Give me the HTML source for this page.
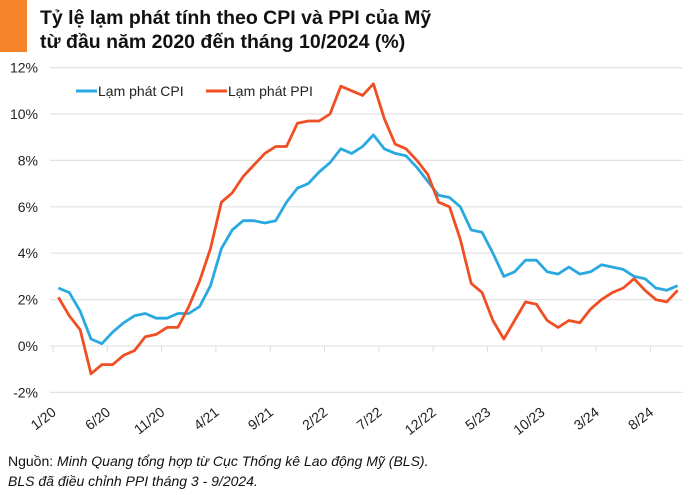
<!DOCTYPE html>
<html><head><meta charset="utf-8"><style>
body{margin:0;background:#fff;width:700px;height:490px;overflow:hidden;font-family:"Liberation Sans",sans-serif}
</style></head><body>
<svg width="700" height="490" xmlns="http://www.w3.org/2000/svg" font-family="Liberation Sans, sans-serif">
<rect x="0" y="0" width="27" height="52" fill="#f5842a"/>
<text font-weight="bold" font-size="19.5" fill="#111"><tspan x="40" y="24">Tỷ lệ lạm phát tính theo CPI và PPI của Mỹ</tspan><tspan x="40" y="48">từ đầu năm 2020 đến tháng 10/2024 (%)</tspan></text>
<g id="grid"></g>
<g id="yl"></g>
<g id="xl"></g>
<g id="series"></g>
<g>
<line x1="76" y1="91" x2="97" y2="91" stroke="#29a9e0" stroke-width="3"/>
<text x="98" y="96" font-size="14" fill="#222">Lạm phát CPI</text>
<line x1="206" y1="91" x2="227" y2="91" stroke="#f04e23" stroke-width="3"/>
<text x="228" y="96" font-size="14" fill="#222">Lạm phát PPI</text>
</g>
<text font-size="14" fill="#111"><tspan x="8" y="466">Nguồn: <tspan font-style="italic">Minh Quang tổng hợp từ Cục Thống kê Lao động Mỹ (BLS).</tspan></tspan><tspan x="8" y="486" font-style="italic">BLS đã điều chỉnh PPI tháng 3 - 9/2024.</tspan></text>
</svg>
<script>
const cpi=[2.5,2.3,1.5,0.3,0.1,0.6,1.0,1.3,1.4,1.2,1.2,1.4,
1.4,1.7,2.6,4.2,5.0,5.4,5.4,5.3,5.4,6.2,6.8,7.0,
7.5,7.9,8.5,8.3,8.6,9.1,8.5,8.3,8.2,7.7,7.1,6.5,
6.4,6.0,5.0,4.9,4.0,3.0,3.2,3.7,3.7,3.2,3.1,3.4,
3.1,3.2,3.5,3.4,3.3,3.0,2.9,2.5,2.4,2.6];
const ppi=[2.1,1.3,0.7,-1.2,-0.8,-0.8,-0.4,-0.2,0.4,0.5,0.8,0.8,
1.7,2.8,4.2,6.2,6.6,7.3,7.8,8.3,8.6,8.6,9.6,9.7,
9.7,10.0,11.2,11.0,10.8,11.3,9.8,8.7,8.5,8.0,7.4,6.2,
6.0,4.6,2.7,2.3,1.1,0.3,1.1,1.9,1.8,1.1,0.8,1.1,
1.0,1.6,2.0,2.3,2.5,2.9,2.4,2.0,1.9,2.4];
const yTicks=[-2,0,2,4,6,8,10,12];
const xTickLabels=["1/20","6/20","11/20","4/21","9/21","2/22","7/22","12/22","5/23","10/23","3/24","8/24"];
const ns="http://www.w3.org/2000/svg";
const x0=53,x1=683,n=cpi.length,step=(x1-x0)/n;
const xPos=i=>x0+step*(i+0.5);
const yPos=v=>346-v*23.2;
function mk(t,a,p){const e=document.createElementNS(ns,t);for(const k in a)e.setAttribute(k,a[k]);document.getElementById(p).appendChild(e);return e;}
yTicks.forEach(v=>{
 const l=mk('line',{x1:x0-3,x2:x1,y1:yPos(v),y2:yPos(v),stroke:'#e3e3e3','stroke-width':1.2},'grid');
 
 
 const t=mk('text',{x:38,y:yPos(v)+5,'font-size':14,'text-anchor':'end',fill:'#222'},'yl');
 
 
 t.textContent=v+'%';
});
xTickLabels.forEach((s,k)=>{
 const x=x0+step*5*k;
 const l=mk('line',{x1:x,x2:x,y1:346,y2:352,stroke:'#ddd','stroke-width':1},'grid');
 
 
 const t=mk('text',{x:x+4,y:414,'font-size':14,'text-anchor':'end',fill:'#222',transform:`rotate(-38 ${x+4} 414)`},'xl');
 
 
 t.textContent=s;
});
function line(d,c,name){
 const p=mk('polyline',{points:d.map((v,i)=>xPos(i).toFixed(1)+','+yPos(v).toFixed(1)).join(' '),fill:'none',stroke:c,'stroke-width':2.8,'stroke-linejoin':'round'},'series');
 
 
}
line(cpi,'#29a9e0','cpi-line');
line(ppi,'#f04e23','ppi-line');
</script>
</body></html>
